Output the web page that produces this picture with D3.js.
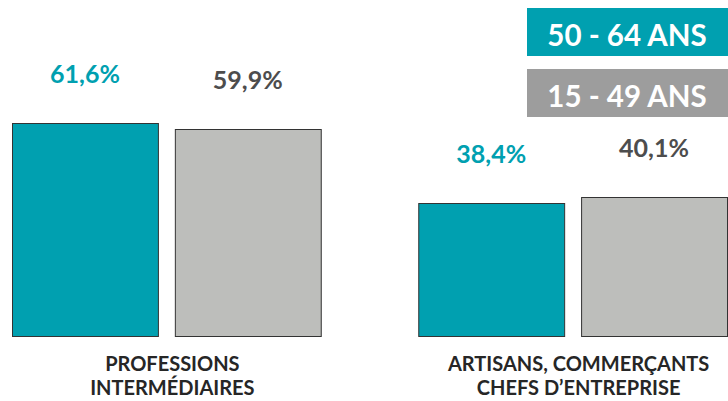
<!DOCTYPE html>
<html>
<head>
<meta charset="utf-8">
<title>CSP par âge</title>
<style>
  body { margin: 0; background: #fff; }
  text { font-family: Lato, "Open Sans", sans-serif; font-weight: bold; }
</style>
</head>
<body>
<script src="https://cdn.jsdelivr.net/npm/d3@7"></script>
<script>
// data
var categories = ["PROFESSIONS|INTERMÉDIAIRES", "ARTISANS, COMMERÇANTS|CHEFS D’ENTREPRISE"];
var series = ["50 - 64 ANS", "15 - 49 ANS"];
var values50_64 = [61.6, 38.4];
var values15_49 = [59.9, 40.1];

var colors = ["#00a0b0", "#bdbebb"];
var legendColors = ["#00a0b0", "#9d9d9d"];
var labelColors = ["#00a0b0", "#4d4d4d"];

var width = 728, height = 401;

var svg = d3.select("body").append("svg")
  .attr("width", width)
  .attr("height", height);

var x0 = d3.scaleBand()
  .domain(categories)
  .range([12, 727])
  .paddingInner(0.24);

var x1 = d3.scaleBand()
  .domain(series)
  .range([0, x0.bandwidth()])
  .paddingInner(0.104);

var y = d3.scaleLinear()
  .domain([0, 100])
  .range([336, -10]);

var rows = categories.map(function(c, i) {
  return { cat: c, vals: [values50_64[i], values15_49[i]] };
});

var groups = svg.selectAll("g.grp")
  .data(rows)
  .enter().append("g")
  .attr("class", "grp")
  .attr("transform", function(d) { return "translate(" + x0(d.cat) + ",0)"; });

groups.selectAll("rect")
  .data(function(d) { return d.vals.map(function(v, j) { return { s: series[j], v: v, j: j }; }); })
  .enter().append("rect")
  .attr("x", function(d) { return x1(d.s) + 0.5; })
  .attr("y", function(d) { return Math.round(y(d.v)) + 0.5; })
  .attr("width", x1.bandwidth())
  .attr("height", function(d) { return y(0) - Math.round(y(d.v)); })
  .attr("fill", function(d) { return colors[d.j]; })
  .attr("stroke", "#333")
  .attr("stroke-width", 1);

// value labels
groups.selectAll("text.val")
  .data(function(d) { return d.vals.map(function(v, j) { return { s: series[j], v: v, j: j }; }); })
  .enter().append("text")
  .attr("class", "val")
  .attr("x", function(d) { return x1(d.s) + x1.bandwidth() / 2; })
  .attr("y", function(d) { return y(d.v) - 40; })
  .attr("text-anchor", "middle")
  .attr("font-size", 25)
  .attr("fill", function(d) { return labelColors[d.j]; })
  .text(function(d) { return d3.format(".1f")(d.v).replace(".", ",") + "%"; });

// category labels
var catLabels = groups.append("text")
  .attr("text-anchor", "middle")
  .attr("font-size", 20)
  .attr("fill", "#262626");

catLabels.selectAll("tspan")
  .data(function(d) { return d.cat.split("|"); })
  .enter().append("tspan")
  .attr("x", x0.bandwidth() / 2 + 6)
  .attr("y", function(d, i) { return 371 + i * 24; })
  .text(function(d) { return d; });

// legend
var legend = svg.selectAll("g.leg")
  .data(series)
  .enter().append("g")
  .attr("class", "leg")
  .attr("transform", function(d, i) { return "translate(527," + (8 + i * 61) + ")"; });

legend.append("rect")
  .attr("width", 201)
  .attr("height", 48)
  .attr("fill", function(d, i) { return legendColors[i]; });

legend.append("text")
  .attr("x", 100)
  .attr("y", 38)
  .attr("text-anchor", "middle")
  .attr("font-size", 29.5)
  .attr("fill", "#fff")
  .text(function(d) { return d; });
</script>
</body>
</html>
